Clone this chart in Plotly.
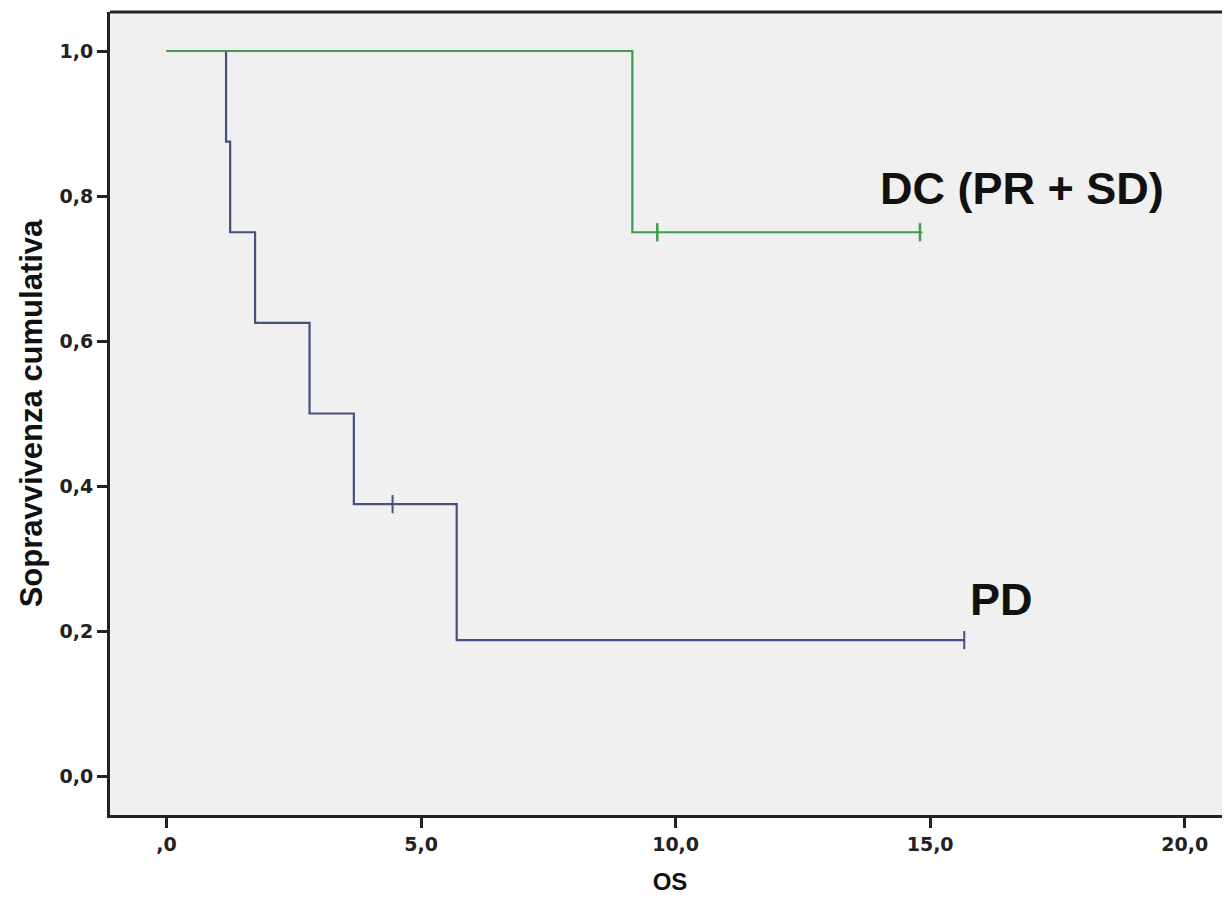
import plotly.graph_objects as go

# ---- data ----
pd_times = [0.0, 1.17, 1.25, 1.74, 2.81, 3.68, 5.70, 15.67]
pd_surv = [1.0, 0.875, 0.75, 0.625, 0.5, 0.375, 0.1875, 0.1875]
pd_cens_t = [4.44, 15.67]
pd_cens_s = [0.375, 0.1875]

dc_times = [0.0, 9.15, 14.85]
dc_surv = [1.0, 0.75, 0.75]
dc_cens_t = [9.64, 14.80]
dc_cens_s = [0.75, 0.75]

x_tickvals = [0, 5, 10, 15, 20]
x_ticktext = [",0", "5,0", "10,0", "15,0", "20,0"]
y_tickvals = [0.0, 0.2, 0.4, 0.6, 0.8, 1.0]
y_ticktext = ["0,0", "0,2", "0,4", "0,6", "0,8", "1,0"]

label_dc = "DC (PR + SD)"
label_pd = "PD"
x_title = "OS"
y_title = "Sopravvivenza cumulativa"

BLUE = "#46507e"
GREEN = "#3f9b4f"
AX = "#222222"

fig = go.Figure()
fig.add_trace(go.Scatter(x=pd_times, y=pd_surv, mode="lines", line_shape="hv",
                         line=dict(color=BLUE, width=2.2), showlegend=False, hoverinfo="skip"))
fig.add_trace(go.Scatter(x=pd_cens_t, y=pd_cens_s, mode="markers",
                         marker=dict(symbol="line-ns", size=13, line=dict(color=BLUE, width=2)),
                         showlegend=False, hoverinfo="skip"))
fig.add_trace(go.Scatter(x=dc_times, y=dc_surv, mode="lines", line_shape="hv",
                         line=dict(color=GREEN, width=2.2), showlegend=False, hoverinfo="skip"))
fig.add_trace(go.Scatter(x=dc_cens_t, y=dc_cens_s, mode="markers",
                         marker=dict(symbol="line-ns", size=13, line=dict(color=GREEN, width=2.5)),
                         showlegend=False, hoverinfo="skip"))

fig.add_annotation(x=13.98, y=0.811, text=label_dc, showarrow=False, xanchor="left", yanchor="middle",
                   font=dict(family="Liberation Sans", size=45, color="#111111", weight="bold"))
fig.add_annotation(x=15.75, y=0.244, text=label_pd, showarrow=False, xanchor="left", yanchor="middle",
                   font=dict(family="Liberation Sans", size=45, color="#111111", weight="bold"))

# top frame line of the plotting area
fig.add_shape(type="line", xref="paper", yref="paper", x0=0, x1=1, y0=1, y1=1,
              line=dict(color=AX, width=3))

fig.update_layout(
    width=1222, height=892,
    margin=dict(l=102, r=0, t=4, b=85),
    paper_bgcolor="white", plot_bgcolor="#f0f0f0",
    font=dict(family="Liberation Sans", color=AX),
    xaxis=dict(range=[-1.11, 20.89], tickvals=x_tickvals, ticktext=x_ticktext,
               showgrid=False, zeroline=False, showline=True, linecolor=AX, linewidth=3,
               mirror=False, ticks="outside", ticklen=10, tickwidth=3, tickcolor=AX,
               tickfont=dict(family="DejaVu Sans", size=19, color=AX, weight="bold"),
               title=dict(text=x_title, standoff=20,
                          font=dict(family="Liberation Sans", size=24, color="#111111", weight="bold"))),
    yaxis=dict(range=[-0.0538, 1.0538], tickvals=y_tickvals, ticktext=y_ticktext,
               showgrid=False, zeroline=False, showline=True, linecolor=AX, linewidth=3,
               mirror=False, ticks="outside", ticklen=10, tickwidth=3, tickcolor=AX,
               ticklabelstandoff=0,
               tickfont=dict(family="DejaVu Sans", size=19, color=AX, weight="bold"),
               title=dict(text=y_title, standoff=8,
                          font=dict(family="Liberation Sans", size=31, color="#111111", weight="bold"))),
)

fig.write_html("out.html")
